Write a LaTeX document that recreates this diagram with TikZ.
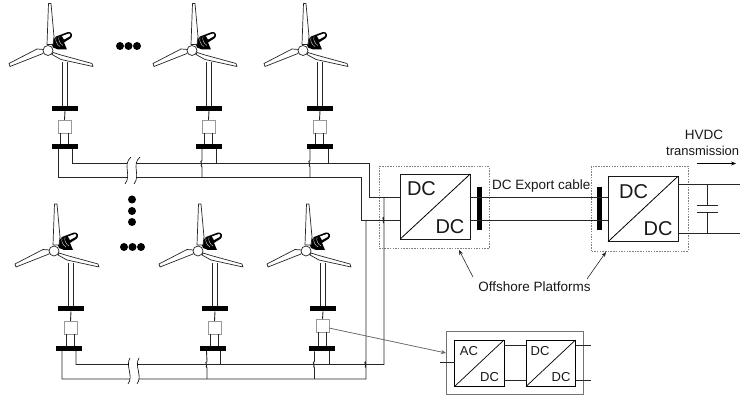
\documentclass[tikz,border=0pt]{standalone}
\usepackage{fontspec}
\setmainfont{Liberation Sans}
\usetikzlibrary{arrows.meta}
\newcommand{\fsz}[1]{\fontsize{#1}{#1}\selectfont}
\tikzset{
  x=1pt,y=-1pt,
  wire/.style={line width=0.9pt,draw=black!85},
  thinwire/.style={line width=0.8pt,draw=black!85},
  busbar/.style={rectangle,fill=black,draw=none,minimum width=26pt,minimum height=5pt,inner sep=0pt,outer sep=0pt},
  vbar/.style={rectangle,fill=black,draw=none,minimum width=5pt,minimum height=43pt,inner sep=0pt,outer sep=0pt},
  smallconv/.style={rectangle,draw=black!40,fill=white,line width=0.9pt,minimum width=13pt,minimum height=13pt,inner sep=0pt,outer sep=0pt},
  bigconv/.style={rectangle,draw=black!90,fill=white,line width=0.9pt,minimum width=70pt,minimum height=65pt,inner sep=0pt,outer sep=0pt},
  minconv/.style={rectangle,draw=black,fill=white,line width=0.9pt,minimum width=49.5pt,minimum height=46.5pt,inner sep=0pt,outer sep=0pt},
  platform/.style={rectangle,draw=black!50,dash pattern=on 1.5pt off 1.2pt,line width=0.5pt,inner sep=0pt,outer sep=0pt},
  biglabel/.style={font=\fsz{20},inner sep=0pt,text=black!90},
  smalllabel/.style={font=\fsz{13},inner sep=0pt,text=black!90},
  caption/.style={font=\fsz{13.5},inner sep=0pt,text=black!90},
  blade/.style={draw=black!85,fill=white,line width=0.7pt,line join=round},
  dotmark/.style={circle,fill=black,inner sep=0pt,minimum size=8pt},
  pointer/.style={line width=0.6pt,draw=black!85,-{Stealth[length=5pt,width=4pt]}},
  windturbine/.pic={
    \draw[wire] (14,12) -- (14,55.5) (19,12) -- (19,55.5);
    \fill[black] (3,-8) -- (8,-14) -- (20,-18.5) .. controls (24,-19) and (25,-15) .. (23,-12.5) -- (16,-8) -- (19,-1) -- (10,-1) -- (5,-3) -- cycle;
    \draw[white,line width=0.3pt] (8,-13) .. controls (7,-9) and (9,-6) .. (12,-4)
      (11,-14) .. controls (10,-10) and (12,-7) .. (15,-5);
    \fill[white] (14,-14.5) -- (21,-17) .. controls (22.5,-17) and (23,-15) .. (21.5,-14) -- (16,-11) -- cycle;
    \draw[blade] (-1,-6) -- (0.5,-47) -- (3,-47) -- (6,-14) -- (5,-6) -- cycle;
    \draw[blade] (-4,-1) -- (-11,-1.5) -- (-39,13) -- (-38,16) -- (-5,3) -- cycle;
    \draw[blade] (5,2) -- (13,4.5) -- (44,13) -- (45,16) -- (13,9) -- (4,4) -- cycle;
    \draw[blade] (0,0) circle[radius=5];
  }
}
% #1 id, #2 hub x, #3 hub y, #4 offset of lower busbar, #5 distance to lower busbar, #6 distance to small box
\newcommand{\windunit}[6]{
  \pic at (#2,#3) {windturbine};
  \node[busbar] (up#1) at (#2+17,#3+58) {};
  \node[smallconv] (box#1) at (#2+16.5,#3+#6) {};
  \node[busbar] (low#1) at (#2+17+#4,#3+#5) {};
  \draw[wire] (up#1.south) -- (box#1.north);
  \draw[thinwire] ([xshift=-4pt]box#1.south) -- ([xshift=-4pt]box#1.south |- low#1.north);
  \draw[thinwire] ([xshift=4pt]box#1.south) -- ([xshift=4pt]box#1.south |- low#1.north);
}
% vertical wire with a hop over a horizontal wire
\newcommand{\hoppath}[2]{-- (#1,#2-3) .. controls (#1-3,#2-2) and (#1+1,#2+0.5) .. (#1-0.5,#2+1) .. controls (#1-2,#2+1.5) and (#1,#2+2) .. (#1,#2+3.5)}
\begin{document}
\begin{tikzpicture}
\useasboundingbox (0,0) rectangle (740,395);
\fill[white] (0,0) rectangle (740,395);

% named levels
\coordinate (fa) at (369,163.5);
\coordinate (fb) at (361,177);
\coordinate (ga) at (384,364.5);
\coordinate (gb) at (366,379);
\coordinate (wt) at (400,197);
\coordinate (wb) at (400,220);
\coordinate (ot) at (740,184);
\coordinate (ob) at (740,233);

% upper row
\windunit{a}{48}{50.5}{0}{96}{76}
\windunit{b}{192}{50.5}{0}{96}{76}
\windunit{c}{303}{50.5}{0}{96}{76}
% lower row
\windunit{d}{54}{251}{-2}{97.5}{76.5}
\windunit{e}{198}{251}{-2}{97.5}{76.5}
\windunit{f}{306}{251}{-1.5}{98}{74.5}

% converters of the platforms
\node[platform,minimum width=110pt,minimum height=81.5pt] (plat1) at (434,207.5) {};
\node[platform,minimum width=96.5pt,minimum height=85pt] (plat2) at (639.8,208.5) {};
\node[bigconv] (dc1) at (435.25,206.5) {};
\node[bigconv,minimum height=65.5pt] (dc2) at (643,209) {};
\node[vbar] (v1) at (479.5,208.5) {};
\node[vbar] (v2) at (599.5,208.5) {};
\draw[line width=0.8pt] (dc1.south west) -- (dc1.north east);
\draw[line width=0.8pt] (dc2.south west) -- (dc2.north east);
\node[biglabel] (dc1a) at (421.5,189) {DC};
\node[biglabel] (dc1b) at (450,226.5) {DC};
\node[biglabel] (dc2a) at (633.5,191.5) {DC};
\node[biglabel] (dc2b) at (658,228.5) {DC};

% upper feeders
\draw[wire] ([xshift=7pt]lowa.south) |- (fa) -- (fa |- wt) -- (wt -| dc1.west);
\draw[wire] ([xshift=-7pt]lowa.south) |- (fb) -- (fb |- wb) -- (wb -| dc1.west);
\draw[wire] ([xshift=7.5pt]lowb.south) -- ([xshift=7.5pt]lowb.south |- fa);
\draw[wire] ([xshift=-7pt]lowb.south) \hoppath{202}{163.5} -- (202,177);
\draw[wire] ([xshift=8pt]lowc.south) -- ([xshift=8pt]lowc.south |- fa);
\draw[wire] ([xshift=-10pt]lowc.south) \hoppath{310}{163.5} -- (310,177);

% lower feeders
\draw[wire] ([xshift=7pt]lowd.south) |- (ga) \hoppath{384}{220} -- (384,197);
\draw[wire] ([xshift=-7pt]lowd.south) |- (gb) \hoppath{366}{364.5} -- (366,220);
\draw[wire] ([xshift=7.5pt]lowe.south) -- ([xshift=7.5pt]lowe.south |- ga);
\draw[wire] ([xshift=-6.5pt]lowe.south) \hoppath{207}{364.5} -- (207,379);
\draw[wire] ([xshift=8pt]lowf.south) -- ([xshift=8pt]lowf.south |- ga);
\draw[wire] ([xshift=-7pt]lowf.south) \hoppath{314.5}{364.5} -- (314.5,379);

% line breaks
\fill[white] (131,157) .. controls (122,165) and (132,175) .. (125,184) -- (134,184) .. controls (141,175) and (131,165) .. (140,157) -- cycle;
\draw[line width=0.6pt] (131,157) .. controls (122,165) and (132,175) .. (125,184);
\draw[line width=0.6pt] (140,157) .. controls (131,165) and (141,175) .. (134,184);
\fill[white] (130,358) .. controls (125,366) and (134,376) .. (128,384) -- (137,384) .. controls (143,376) and (134,366) .. (139,358) -- cycle;
\draw[line width=0.6pt] (130,358) .. controls (125,366) and (134,376) .. (128,384);
\draw[line width=0.6pt] (139,358) .. controls (134,366) and (143,376) .. (137,384);

% export cable and output
\draw[wire] (wt -| dc1.east) -- (wt -| dc2.west);
\draw[wire] (wb -| dc1.east) -- (wb -| dc2.west);
\draw[wire] (ot -| dc2.east) -- (ot);
\draw[wire] (ob -| dc2.east) -- (ob);
\coordinate (capt) at (707,205);
\coordinate (capb) at (707,212);
\draw[thinwire] (capt |- ot) -- (capt);
\draw[thinwire] (capb |- ob) -- (capb);
\draw[thinwire] (696.5,205) -- (717.5,205);
\draw[thinwire] (696.5,212) -- (717.5,212);

% dots
\foreach \n/\x/\y in {p/120/46,q/128.5/46,r/137/46,s/132/199.5,t/132/211,u/132/222,v/124/247,w/132.5/247,z/141/247}{
  \node[dotmark] (dot\n) at (\x,\y) {};
}

% labels
\node[caption,anchor=west] (lcable) at (492,186.5) {DC Export cable};
\node[caption] (lhvdc) at (704,134.5) {HVDC};
\node[caption,font=\fsz{13},anchor=west] (ltrans) at (666,151) {transmission};
\coordinate (ha) at (697,163.5);
\coordinate (hb) at (736,163.5);
\draw[line width=0.6pt,-{Stealth[length=5pt,width=4pt]}] (ha) -- (hb);
\node[caption] (lplat) at (534.5,287) {Offshore Platforms};
\coordinate (pa) at (473,277);
\coordinate (pat) at (459,250);
\coordinate (pb) at (587,279);
\coordinate (pbt) at (606,252);
\draw[pointer] (pa) -- (pat);
\draw[pointer] (pb) -- (pbt);

% detail
\node[rectangle,draw=black!55,line width=0.9pt,minimum width=136.5pt,minimum height=62.5pt,inner sep=0pt] (detail) at (515,363) {};
\node[minconv] (ac) at (479.25,363.25) {};
\node[minconv] (dd) at (550.75,363.25) {};
\draw[line width=0.7pt] (ac.south west) -- (ac.north east);
\draw[line width=0.7pt] (dd.south west) -- (dd.north east);
\node[smalllabel] (ac1) at (469,351) {AC};
\node[smalllabel] (ac2) at (489.5,377) {DC};
\node[smalllabel] (dd1) at (540,351) {DC};
\node[smalllabel] (dd2) at (561,377) {DC};
\coordinate (it) at (515,345.5);
\coordinate (ib) at (515,380.5);
\coordinate (il) at (440,362);
\coordinate (irt) at (591,345.5);
\coordinate (irb) at (591,380.5);
\draw[thinwire] (it -| ac.east) -- (it -| dd.west);
\draw[thinwire] (ib -| ac.east) -- (ib -| dd.west);
\draw[thinwire] (il) -- (il -| ac.west);
\draw[thinwire] (irt -| dd.east) -- (irt);
\draw[thinwire] (irb -| dd.east) -- (irb);
\coordinate (dt) at (446,353);
\draw[line width=0.7pt,draw=black!60,-{Stealth[length=5pt,width=4pt]},fill=black!60] ([yshift=-2.5pt]boxf.east) -- (dt);
\end{tikzpicture}
\end{document}
